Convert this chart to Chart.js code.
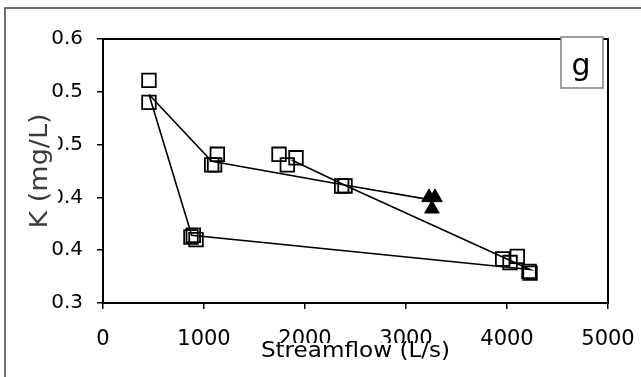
<!DOCTYPE html>
<html>
<head>
    <title>K vs Streamflow (g)</title>
    <script src="https://cdn.jsdelivr.net/npm/chart.js"></script>
    <style>
        html, body { margin: 0; padding: 0; background: #fff; }
        #wrap { width: 641px; height: 377px; }
    </style>
</head>
<body>
    <div id="wrap"><canvas id="kChart" width="641" height="377"></canvas></div>

    <script>
        // Datos
        const squareX = [455, 455, 1132, 1076, 1105, 1743, 1911, 1825, 2363, 2396, 871, 921, 894, 3957, 4102, 4030, 4218, 4228];
        const squareY = [0.553, 0.528, 0.469, 0.457, 0.457, 0.469, 0.465, 0.457, 0.433, 0.433, 0.375, 0.372, 0.377, 0.350, 0.353, 0.346, 0.336, 0.334];

        const triangleX = [3228, 3287, 3257];
        const triangleY = [0.420, 0.420, 0.407];

        // Lineas (bucle de histeresis y tramo final)
        const loopX = [455, 1076, 2390, 4228, 878, 455];
        const loopY = [0.537, 0.461, 0.434, 0.338, 0.377, 0.537];
        const tailX = [1868, 2390, 3205];
        const tailY = [0.4625, 0.434, 0.418];

        const xTicks = [0, 1000, 2000, 3000, 4000, 5000];
        const yTicks = [0.3, 0.36, 0.42, 0.48, 0.54, 0.6];
        const yTickLabels = ['0.3', '0.4', '0.4', '0.5', '0.5', '0.6'];

        const xTitle = 'Streamflow (L/s)';
        const yTitle = 'K (mg/L)';
        const panelLabel = 'g';

        const toPoints = (xs, ys) => xs.map((x, i) => ({ x: x, y: ys[i] }));
        const FONT = 'DejaVu Sans';

        // Marco exterior, borde del area, etiquetas x, titulos y etiqueta del panel
        const decor = {
            id: 'decor',
            beforeDraw(chart) {
                const ctx = chart.ctx;
                ctx.save();
                ctx.fillStyle = '#fff';
                ctx.fillRect(0, 0, chart.width, chart.height);
                ctx.strokeStyle = '#404040';
                ctx.lineWidth = 1.5;
                ctx.strokeRect(5, 8, 700, 400);
                ctx.restore();
            },
            afterDraw(chart) {
                const ctx = chart.ctx;
                const a = chart.chartArea;
                const xs = chart.scales.x;
                const midX = (a.left + a.right) / 2;
                const midY = (a.top + a.bottom) / 2;
                ctx.save();
                ctx.strokeStyle = '#000';
                ctx.lineWidth = 2;
                ctx.strokeRect(a.left, a.top, a.right - a.left, a.bottom - a.top);

                // caja "g"
                ctx.fillStyle = '#fff';
                ctx.fillRect(561, 37, 42, 51);
                ctx.strokeStyle = '#808080';
                ctx.lineWidth = 1.5;
                ctx.strokeRect(561, 37, 42, 51);
                ctx.fillStyle = '#000';
                ctx.font = '30px ' + FONT;
                ctx.textAlign = 'center';
                ctx.textBaseline = 'alphabetic';
                ctx.fillText(panelLabel, 581, 75);

                // titulo eje x: fondo blanco solo bajo la linea de mayusculas
                ctx.font = '21px ' + FONT;
                ctx.save();
                ctx.translate(midX, 357);
                ctx.scale(1.1, 1);
                const wx = ctx.measureText(xTitle).width;
                ctx.restore();

                // etiquetas del eje x
                xTicks.forEach(v => {
                    ctx.fillText(String(v), xs.getPixelForValue(v), 345);
                });

                ctx.fillStyle = '#fff';
                ctx.fillRect(midX - wx * 0.55 - 1, 343, wx * 1.1 + 2, 20);
                ctx.save();
                ctx.translate(midX, 357);
                ctx.scale(1.1, 1);
                ctx.fillStyle = '#000';
                ctx.fillText(xTitle, 0, 0);
                ctx.restore();

                // titulo eje y (con fondo blanco)
                ctx.translate(40, midY);
                ctx.rotate(-Math.PI / 2);
                ctx.scale(1.08, 1);
                ctx.font = '25px ' + FONT;
                const wy = ctx.measureText(yTitle).width;
                ctx.fillStyle = '#fff';
                ctx.fillRect(-wy / 2 - 2, -14, wy + 4, 32);
                ctx.fillStyle = '#3a3a3a';
                ctx.textBaseline = 'middle';
                ctx.fillText(yTitle, 0, 0);
                ctx.restore();
            }
        };

        new Chart(document.getElementById('kChart'), {
            type: 'scatter',
            data: {
                datasets: [
                    {
                        data: toPoints(loopX, loopY),
                        showLine: true,
                        borderColor: '#000',
                        borderWidth: 1.6,
                        pointRadius: 0,
                        tension: 0
                    },
                    {
                        data: toPoints(tailX, tailY),
                        showLine: true,
                        borderColor: '#000',
                        borderWidth: 1.6,
                        pointRadius: 0,
                        tension: 0
                    },
                    {
                        data: toPoints(squareX, squareY),
                        pointStyle: 'rect',
                        pointRadius: 9.6,
                        borderColor: '#000',
                        borderWidth: 1.8,
                        backgroundColor: 'rgba(0,0,0,0)'
                    },
                    {
                        data: toPoints(triangleX, triangleY),
                        pointStyle: 'triangle',
                        pointRadius: 8.4,
                        borderColor: '#000',
                        borderWidth: 1,
                        backgroundColor: '#000'
                    }
                ]
            },
            options: {
                responsive: false,
                animation: false,
                layout: { padding: { left: 0, top: 39, right: 33, bottom: 0 } },
                plugins: {
                    legend: { display: false },
                    tooltip: { enabled: false }
                },
                scales: {
                    x: {
                        type: 'linear',
                        min: 0,
                        max: 5000,
                        afterBuildTicks: s => { s.ticks = xTicks.map(v => ({ value: v })); },
                        afterFit: s => { s.height = 74; },
                        ticks: {
                            // las etiquetas se dibujan en el plugin (para poder taparlas con el titulo)
                            display: false
                        },
                        grid: { drawOnChartArea: false, drawTicks: true, tickLength: 6, color: '#000', lineWidth: 1.5 },
                        border: { display: true, color: '#000', width: 2 }
                    },
                    y: {
                        type: 'linear',
                        min: 0.3,
                        max: 0.6,
                        afterBuildTicks: s => { s.ticks = yTicks.map(v => ({ value: v })); },
                        afterFit: s => { s.width = 103; },
                        ticks: {
                            color: '#000',
                            font: { family: FONT, size: 20 },
                            padding: 14,
                            callback: (v, i) => yTickLabels[i]
                        },
                        grid: { drawOnChartArea: false, drawTicks: true, tickLength: 6, color: '#000', lineWidth: 1.5 },
                        border: { display: true, color: '#000', width: 2 }
                    }
                }
            },
            plugins: [decor]
        });
    </script>
</body>
</html>
